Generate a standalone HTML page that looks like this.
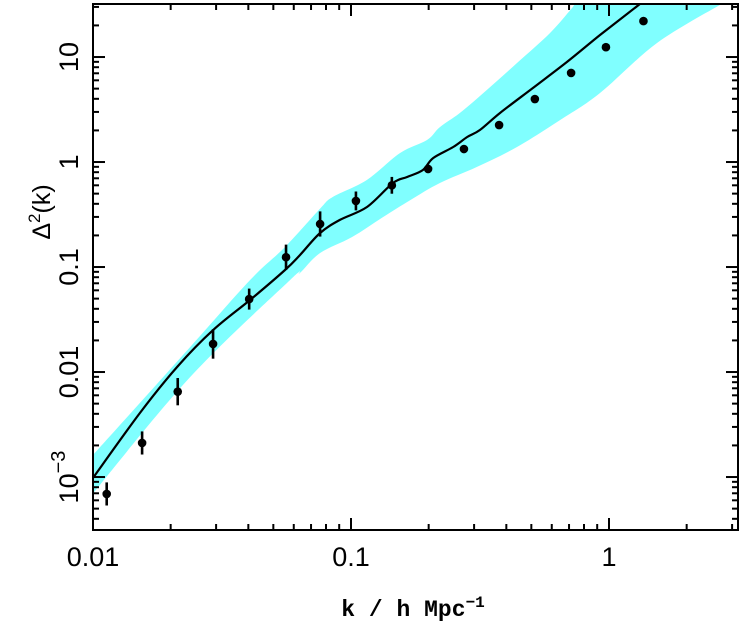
<!DOCTYPE html>
<html><head><meta charset="utf-8"><style>
html,body{margin:0;padding:0;background:#fff}
svg{display:block}
text{font-family:"Liberation Sans",sans-serif;fill:#000}
</style></head><body>
<svg id="chart" width="743" height="629" viewBox="0 0 743 629" xmlns="http://www.w3.org/2000/svg">
<g id="band"></g>
<g id="curve"></g>
<g id="points"></g>
<g id="axes"></g>
</svg>
<script>
const pointK=[0.0113,0.0155,0.0213,0.0292,0.0403,0.056,0.0759,0.1045,0.144,0.199,0.274,0.375,0.516,0.713,0.973,1.36];
const pointVal=[6.9e-4,2.11e-3,6.5e-3,0.0185,0.0495,0.124,0.257,0.426,0.60,0.86,1.33,2.25,3.98,7.05,12.4,22.0];
const pointErrDex=[0.11,0.11,0.13,0.14,0.10,0.12,0.12,0.09,0.08,0.04,0.03,0.03,0.03,0.03,0.03,0.03];
const curveK=[0.01,0.0152,0.0212,0.0292,0.0406,0.0555,0.0634,0.0759,0.0906,0.1153,0.1455,0.165,0.190,0.208,0.249,0.282,0.316,0.378,0.507,0.687,0.923,1.318];
const curveVal=[9.8e-4,4.07e-3,0.0112,0.0251,0.0485,0.0937,0.130,0.211,0.281,0.373,0.631,0.720,0.839,1.09,1.39,1.73,2.02,2.93,5.07,8.97,16.2,32.0];
const bandUpperK=[0.01,0.0238,0.0406,0.0555,0.0759,0.0851,0.1153,0.155,0.197,0.221,0.264,0.336,0.44,0.59,0.724];
const bandUpperVal=[1.62e-3,0.0173,0.0751,0.155,0.36,0.465,0.675,1.22,1.62,2.15,2.93,4.85,8.77,16.9,29.9];
const bandLowerK=[0.01,0.0238,0.058,0.0634,0.0759,0.101,0.133,0.170,0.221,0.308,0.44,0.646,0.923,1.535,2.77];
const bandLowerVal=[7.0e-4,8.97e-3,0.075,0.0877,0.136,0.193,0.299,0.435,0.631,0.898,1.39,2.51,4.54,13.6,32.7];
const xTickVals=[0.01,0.1,1];
const xTickLabels=["0.01","0.1","1"];
const yTickVals=[10,1,0.1,0.01,0.001];
const yTickLabels=["10","1","0.1","0.01","10^-3"];

const L=93,R=738,T=4,B=530;
const xMinL=-2,xMaxL=-2+(R-L)/258;
const yMaxL=1.505,yMinL=1.505-(B-T)/105;
function X(k){return L+(Math.log10(k)-xMinL)/(xMaxL-xMinL)*(R-L);}
function Y(v){return T+(yMaxL-Math.log10(v))/(yMaxL-yMinL)*(B-T);}
const NS="http://www.w3.org/2000/svg";
function mk(tag,parent,attrs){const e=document.createElementNS(NS,tag);for(const a in attrs)e.setAttribute(a,attrs[a]);parent.appendChild(e);return e;}
function smooth(P,start){ // catmull-rom
  let d=(start?'M':'L')+P[0][0].toFixed(1)+','+P[0][1].toFixed(1);
  for(let i=0;i<P.length-1;i++){
    const p0=P[Math.max(i-1,0)],p1=P[i],p2=P[i+1],p3=P[Math.min(i+2,P.length-1)];
    const c1=[p1[0]+(p2[0]-p0[0])/6,p1[1]+(p2[1]-p0[1])/6];
    const c2=[p2[0]-(p3[0]-p1[0])/6,p2[1]-(p3[1]-p1[1])/6];
    d+='C'+c1[0].toFixed(1)+','+c1[1].toFixed(1)+' '+c2[0].toFixed(1)+','+c2[1].toFixed(1)+' '+p2[0].toFixed(1)+','+p2[1].toFixed(1);
  }
  return d;
}

const defs=mk('defs',document.getElementById('chart'),{});
const cp=mk('clipPath',defs,{id:'plotclip'});
mk('rect',cp,{x:L,y:T,width:R-L,height:B-T});

// band
const band=document.getElementById('band');
band.setAttribute('clip-path','url(#plotclip)');
const up=bandUpperK.map((k,i)=>[X(k),Y(bandUpperVal[i])]);
const lo=bandLowerK.map((k,i)=>[X(k),Y(bandLowerVal[i])]).reverse();
let d=smooth(up,true);
d+='L'+(up[up.length-1][0]+40)+','+(T-60)+'L'+(R+80)+','+(T-60);
d+=smooth(lo,false)+'Z';
const bp=mk('path',band,{d:d,fill:'#80ffff',stroke:'none'});



// curve
const curve=document.getElementById('curve');
curve.setAttribute('clip-path','url(#plotclip)');
const cpts=curveK.map((k,i)=>[X(k),Y(curveVal[i])]);
const cl=mk('path',curve,{d:smooth(cpts,true),fill:'none',stroke:'#000','stroke-width':2.2,'stroke-linejoin':'round'});



// points
const pts=document.getElementById('points');
pointK.forEach((k,i)=>{
  const g=mk('g',pts,{});
  
  
  const x=X(k),v=pointVal[i],e=pointErrDex[i];
  mk('line',g,{x1:x,x2:x,y1:Y(v*Math.pow(10,e)),y2:Y(v/Math.pow(10,e)),stroke:'#000','stroke-width':2.6});
  mk('circle',g,{cx:x,cy:Y(v),r:4.3,fill:'#000'});
});

// axes
const ax=document.getElementById('axes');
const fr=mk('rect',ax,{x:L,y:T,width:R-L,height:B-T,fill:'none',stroke:'#000','stroke-width':2});


function tk(x1,y1,x2,y2){mk('line',ax,{x1,y1,x2,y2,stroke:'#000','stroke-width':2});}
for(let e=-2;e<=0;e++){for(let m=1;m<=9;m++){const k=m*Math.pow(10,e);if(k>Math.pow(10,xMaxL))break;const x=X(k);const len=m===1?12:6;tk(x,B,x,B-len);tk(x,T,x,T+len);}}
for(let e=-4;e<=1;e++){for(let m=1;m<=9;m++){const v=m*Math.pow(10,e);const lv=Math.log10(v);if(lv<yMinL||lv>yMaxL)continue;const y=Y(v);const len=m===1?12:6;tk(L,y,L+len,y);tk(R,y,R-len,y);}}
xTickVals.forEach((v,i)=>{
  const t=mk('text',ax,{x:X(v),y:566,'text-anchor':'middle','font-size':27});
  t.textContent=xTickLabels[i];
  
  
});
yTickVals.forEach((v,i)=>{
  const y=Y(v);
  const t=mk('text',ax,{transform:'translate(78,'+y+') rotate(-90)','text-anchor':'middle','font-size':27});
  const lab=yTickLabels[i];
  if(lab.indexOf('^')>=0){const p=lab.split('^');t.textContent=p[0];const s=mk('tspan',t,{dy:-13,'font-size':20});s.textContent='\u2212'+p[1].replace('-','');}
  else t.textContent=lab;
  
  
});
const yt=mk('text',ax,{transform:'translate(50,212) rotate(-90)','text-anchor':'middle','font-size':25});
yt.innerHTML='\u0394<tspan dy="-10" font-size="17">2</tspan><tspan dy="10">(k)</tspan>';


const xt=mk('text',ax,{x:413,y:616,'text-anchor':'middle','font-size':23,'font-weight':'bold'});
xt.setAttribute('style','font-family:"Liberation Mono",monospace');
xt.innerHTML='k / h Mpc<tspan dy="-9" font-size="16">\u22121</tspan>';


</script>
</body></html>
